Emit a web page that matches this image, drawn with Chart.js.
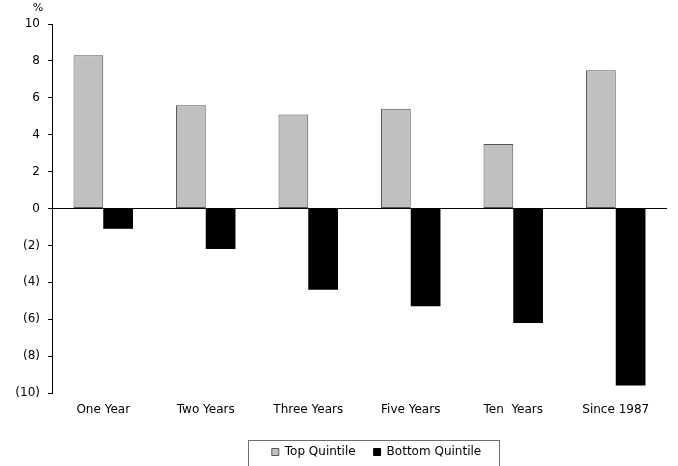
<!DOCTYPE html>
<html>
<head>
<meta charset="utf-8">
<script src="https://cdn.jsdelivr.net/npm/chart.js@4"></script>
<style>
  html, body { margin: 0; padding: 0; background: #fff; }
  #wrap { width: 678px; height: 466px; position: relative; }
</style>
</head>
<body>
<div id="wrap"><canvas id="chart"></canvas></div>
<script>
// Annualised return spread by period
const categories = ['One Year', 'Two Years', 'Three Years', 'Five Years', 'Ten  Years', 'Since 1987'];
const topQuintile = [8.3, 5.6, 5.1, 5.4, 3.5, 7.5];
const bottomQuintile = [-1.1, -2.2, -4.4, -5.3, -6.2, -9.6];
const yMin = -10;
const yMax = 10;
const yStep = 2;
const unitLabel = '%';

const FONT = "'DejaVu Sans', Verdana, sans-serif";
const LEGEND_SHIFT = 43;

// Nudges the legend right, draws the unit label above the value axis
// and a frame round the legend
const extras = {
  id: 'extras',
  afterLayout(chart) {
    const lg = chart.legend;
    if (lg) {
      lg.left += LEGEND_SHIFT;
      lg.right += LEGEND_SHIFT;
    }
  },
  afterDraw(chart) {
    const ctx = chart.ctx;
    const area = chart.chartArea;
    ctx.save();
    ctx.fillStyle = '#000';
    ctx.font = '11px ' + FONT;
    ctx.textAlign = 'center';
    ctx.textBaseline = 'middle';
    ctx.fillText(unitLabel, area.left - 14, area.top - 16);

    const boxes = chart.legend.legendHitBoxes;
    if (boxes && boxes.length) {
      const l = Math.min(...boxes.map(b => b.left));
      const r = Math.max(...boxes.map(b => b.left + b.width));
      const t = Math.min(...boxes.map(b => b.top));
      ctx.strokeStyle = '#6e6e6e';
      ctx.lineWidth = 1;
      const x0 = Math.round(l - 24) + 0.5;
      const x1 = Math.round(r + 18) + 0.5;
      const y0 = Math.round(t - 6) + 0.5;
      ctx.strokeRect(x0, y0, x1 - x0, 60);
    }
    ctx.restore();
  }
};

new Chart(document.getElementById('chart'), {
  type: 'bar',
  data: {
    labels: categories,
    datasets: [
      {
        label: 'Top Quintile',
        data: topQuintile,
        backgroundColor: '#c0c0c0',
        borderColor: '#555555',
        borderWidth: 1,
        borderSkipped: false,
        categoryPercentage: 0.58,
        barPercentage: 1.0
      },
      {
        label: 'Bottom Quintile',
        data: bottomQuintile,
        backgroundColor: '#000000',
        borderWidth: 0,
        categoryPercentage: 0.58,
        barPercentage: 1.0
      }
    ]
  },
  options: {
    responsive: true,
    maintainAspectRatio: false,
    animation: false,
    layout: { padding: { top: 24, right: 11, left: 0, bottom: -2 } },
    plugins: {
      tooltip: { enabled: false },
      legend: {
        position: 'bottom',
        labels: {
          font: { family: FONT, size: 12 },
          color: '#000',
          boxWidth: 7,
          boxHeight: 7,
          padding: 18,
          generateLabels(chart) {
            return chart.data.datasets.map((ds, i) => ({
              text: ds.label,
              fillStyle: ds.backgroundColor,
              strokeStyle: i === 0 ? '#555555' : '#000000',
              lineWidth: 1,
              hidden: false,
              datasetIndex: i
            }));
          }
        }
      }
    },
    scales: {
      x: {
        grid: { display: false },
        border: { display: false },
        ticks: {
          font: { family: FONT, size: 12 },
          color: '#000',
          padding: 2,
          maxRotation: 0
        },
        afterFit(scale) { scale.height = 35; }
      },
      y: {
        min: yMin,
        max: yMax,
        ticks: {
          stepSize: yStep,
          font: { family: FONT, size: 12 },
          color: '#000',
          padding: 8,
          callback: v => v < 0 ? '(' + (-v) + ')' : String(v)
        },
        grid: {
          color: c => c.tick && c.tick.value === 0 ? '#000' : 'rgba(0,0,0,0)',
          tickColor: '#000',
          tickLength: 4,
          lineWidth: 1
        },
        border: { display: true, color: '#000', width: 1 },
        afterFit(scale) { scale.width = 52; }
      }
    }
  },
  plugins: [extras]
});
</script>
</body>
</html>
